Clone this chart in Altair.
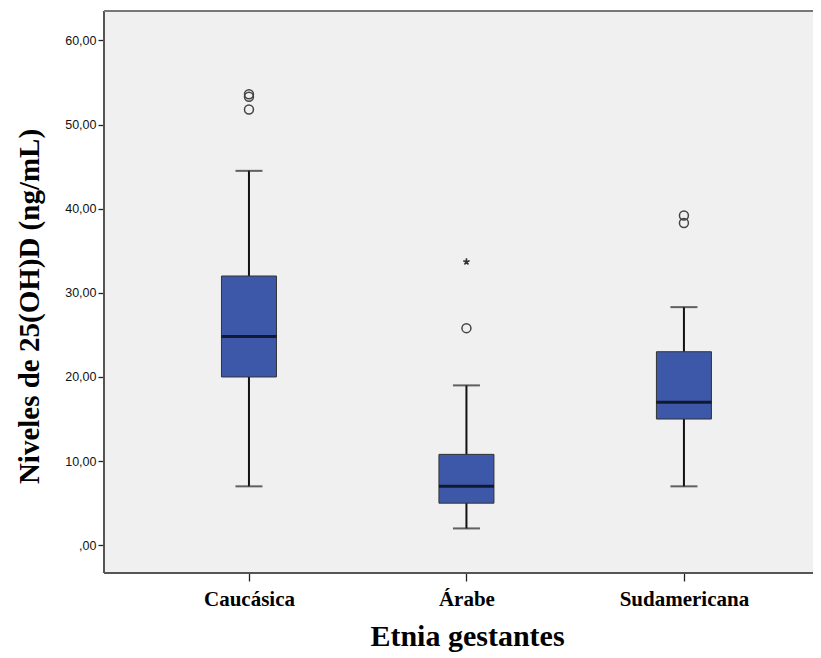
import altair as alt
import pandas as pd

groups = ["Caucásica", "Árabe", "Sudamericana"]
whisker_low = [7.0, 2.0, 7.0]
q1 = [20.0, 5.0, 15.0]
median = [24.8, 7.0, 17.0]
q3 = [32.0, 10.8, 23.0]
whisker_high = [44.5, 19.0, 28.3]

outlier_group = ["Caucásica", "Caucásica", "Caucásica", "Árabe", "Sudamericana", "Sudamericana"]
outlier_value = [53.6, 53.3, 51.8, 25.8, 39.2, 38.3]
extreme_group = ["Árabe"]
extreme_value = [33.7]

y_ticks = [0, 10, 20, 30, 40, 50, 60]

W, H = 709, 562

box_df = pd.DataFrame({"g": groups, "lo": whisker_low, "q1": q1, "med": median,
                       "q3": q3, "hi": whisker_high})
out_df = pd.DataFrame({"g": outlier_group, "v": outlier_value})
ext_df = pd.DataFrame({"g": extreme_group, "v": extreme_value})

serif = "Liberation Serif"

xscale = alt.Scale(type="point", domain=groups, padding=0.63, align=0.529)
yscale = alt.Scale(domain=[-3.3, 63.5], nice=False, zero=False)

x_axis = alt.Axis(title="Etnia gestantes", titleFont=serif, titleFontSize=30,
                  titleFontWeight="bold", titleColor="black", titlePadding=12,
                  titleX=363,
                  labelFont=serif, labelFontSize=21, labelFontWeight="bold",
                  labelColor="black", labelAngle=0, labelPadding=7,
                  tickSize=8, tickColor="#222", tickWidth=1.3, domain=False, grid=False)
y_axis = alt.Axis(title="Niveles de 25(OH)D (ng/mL)", titleFont=serif, titleFontSize=29,
                  titleFontWeight="bold", titleColor="black", titlePadding=20,
                  titleY=295,
                  values=y_ticks, labelFont="Liberation Sans", labelFontSize=12.5,
                  labelColor="#111", labelPadding=2,
                  labelExpr="datum.value == 0 ? ',00' : replace(format(datum.value, '.2f'), '.', ',')",
                  tickSize=6, tickColor="#222", tickWidth=1.3, domain=False, grid=False)

base = alt.Chart(box_df)

whisk = base.mark_rule(color="#111", strokeWidth=2).encode(
    x=alt.X("g:N", scale=xscale, axis=x_axis, sort=groups),
    y=alt.Y("lo:Q", scale=yscale, axis=y_axis),
    y2="hi:Q",
)
caps_lo = base.mark_tick(color="#222", size=27, thickness=2).encode(
    x=alt.X("g:N", scale=xscale, sort=groups), y=alt.Y("lo:Q", scale=yscale))
caps_hi = base.mark_tick(color="#222", size=27, thickness=2).encode(
    x=alt.X("g:N", scale=xscale, sort=groups), y=alt.Y("hi:Q", scale=yscale))
box = base.mark_bar(size=55, color="#3d58a8", stroke="#333", strokeWidth=1).encode(
    x=alt.X("g:N", scale=xscale, sort=groups),
    y=alt.Y("q1:Q", scale=yscale), y2="q3:Q")
med = base.mark_tick(color="black", size=55, thickness=3).encode(
    x=alt.X("g:N", scale=xscale, sort=groups), y=alt.Y("med:Q", scale=yscale))

outs = alt.Chart(out_df).mark_point(shape="circle", size=80, filled=False,
                                    color="#444", strokeWidth=1.5, opacity=1).encode(
    x=alt.X("g:N", scale=xscale, sort=groups), y=alt.Y("v:Q", scale=yscale))

star_path = ("M0,-1L0,0M0,0L0.95,-0.31M0,0L0.59,0.81M0,0L-0.59,0.81M0,0L-0.95,-0.31")
ext = alt.Chart(ext_df).mark_point(shape=star_path, size=45, filled=False,
                                   color="#333", strokeWidth=1.6, opacity=1).encode(
    x=alt.X("g:N", scale=xscale, sort=groups), y=alt.Y("v:Q", scale=yscale))

border_df = pd.DataFrame({"d": [0]})
left_border = alt.Chart(border_df).mark_rule(color="#555", strokeWidth=2).encode(
    x=alt.value(0), y=alt.value(0), y2=alt.value(H))
top_border = alt.Chart(border_df).mark_rule(color="#777", strokeWidth=2).encode(
    x=alt.value(0), x2=alt.value(W), y=alt.value(0))
bottom_border = alt.Chart(border_df).mark_rule(color="#555", strokeWidth=2).encode(
    x=alt.value(0), x2=alt.value(W), y=alt.value(H))

chart = alt.layer(whisk, caps_lo, caps_hi, box, med, outs, ext,
                  left_border, top_border, bottom_border).properties(
    width=W, height=H,
    autosize=alt.AutoSizeParams(type="none"),
    padding={"left": 96, "top": 3, "right": 0, "bottom": 84},
    background="white",
).configure_view(fill="#f0f0f0", stroke="transparent", strokeWidth=0)

chart.save("out.html", embed_options={"renderer": "svg", "actions": False})
